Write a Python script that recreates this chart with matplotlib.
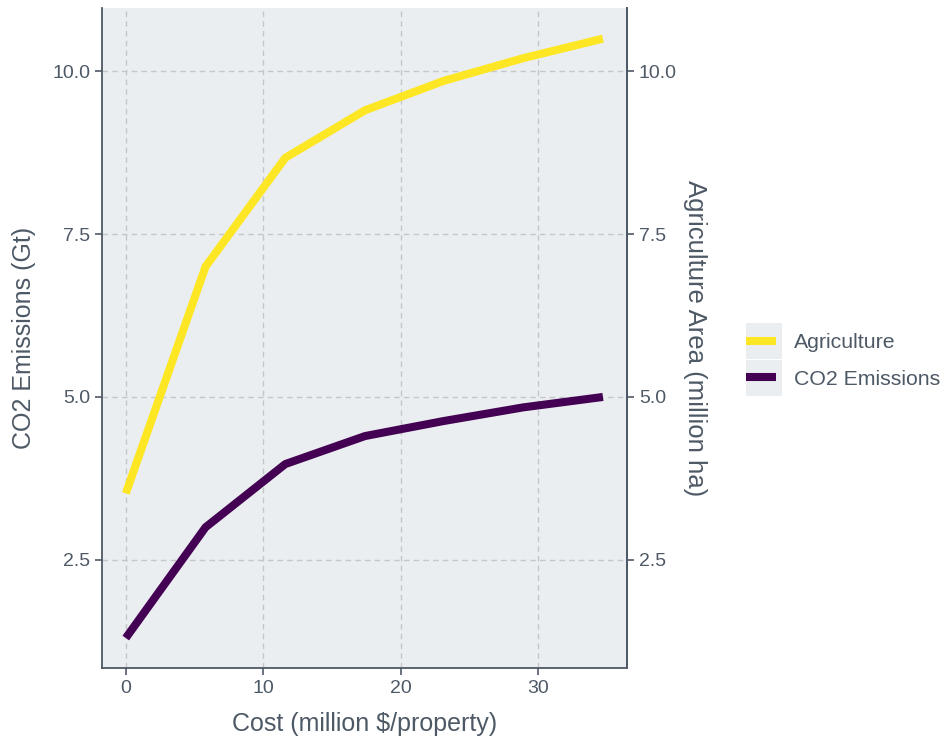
import matplotlib
matplotlib.use("Agg")
import matplotlib.pyplot as plt
from matplotlib.patches import Rectangle

plt.rcParams['font.family'] = ['Liberation Sans', 'DejaVu Sans']

# data
cost = [0, 5.8, 11.6, 17.4, 23.1, 28.9, 34.7]
agriculture = [3.52, 7.0, 8.67, 9.4, 9.85, 10.2, 10.5]
co2 = [1.3, 3.0, 3.97, 4.4, 4.63, 4.84, 5.0]

x_ticks = [0, 10, 20, 30]
y_ticks = [2.5, 5.0, 7.5, 10.0]
y_labels = ["2.5", "5.0", "7.5", "10.0"]

yellow = "#FDE725"
purple = "#440154"
panel = "#EBEEF0"
axcol = "#4E5966"
txtcol = "#4E5966"

fig = plt.figure(figsize=(9.44, 7.42), dpi=100)
ax = fig.add_axes([102/944, 1-668/742, (627-102)/944, (668-8)/742])
ax.set_facecolor(panel)

la, = ax.plot(cost, agriculture, color=yellow, lw=5.8, solid_capstyle='butt', label="Agriculture", zorder=3)
lc, = ax.plot(cost, co2, color=purple, lw=5.8, solid_capstyle='butt', label="CO2 Emissions", zorder=3)

ax.set_xlim(-1.73, 36.45)
ax.set_ylim(0.84, 10.97)
ax.set_xticks(x_ticks)
ax.set_yticks(y_ticks)
ax.set_yticklabels(y_labels)
ax.grid(True, color="#C4C6C8", linestyle=(0, (4, 3)), lw=1.0)
ax.set_axisbelow(True)

ax.spines['top'].set_visible(False)
for s in ['left', 'right', 'bottom']:
    ax.spines[s].set_color(axcol)
    ax.spines[s].set_linewidth(1.3)

ax.tick_params(axis='both', colors=axcol, labelcolor=txtcol, labelsize=14, length=5, width=1.2)
ax.set_xlabel("Cost (million $/property)", fontsize=18, color=txtcol, labelpad=11)
ax.set_ylabel("CO2 Emissions (Gt)", fontsize=18, color=txtcol, labelpad=12)

ax2 = ax.twinx()
ax2.set_ylim(ax.get_ylim())
ax2.set_yticks(y_ticks)
ax2.set_yticklabels(y_labels)
for s in ['top', 'left', 'bottom']:
    ax2.spines[s].set_visible(False)
ax2.spines['right'].set_color(axcol)
ax2.spines['right'].set_linewidth(1.3)
ax2.tick_params(axis='y', colors=axcol, labelcolor=txtcol, labelsize=14, length=5, width=1.2)
ax2.set_ylabel("Agriculture Area (million ha)", fontsize=18.5, color=txtcol, rotation=-90, labelpad=22)

# legend key backgrounds
for top in (323, 360):
    fig.patches.append(Rectangle((746/944, 1-(top+36)/742), 36/944, 36/742,
                                 transform=fig.transFigure, facecolor=panel, edgecolor='none', zorder=0))

fig.legend(handles=[la, lc], loc='center left', bbox_to_anchor=(746/944, 1-361/742),
           frameon=False, fontsize=15.3, labelcolor=txtcol, handlelength=1.41,
           handletextpad=0.85, borderpad=0, borderaxespad=0, labelspacing=0.82)

fig.savefig("out.png", dpi=100)
